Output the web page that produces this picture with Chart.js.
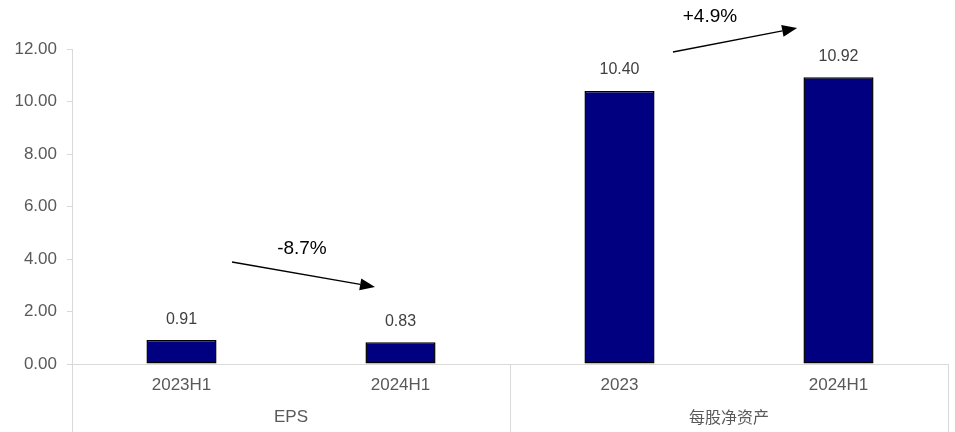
<!DOCTYPE html>
<html>
<head>
<meta charset="utf-8">
<script src="https://cdn.jsdelivr.net/npm/chart.js@4"></script>
<style>
html,body{margin:0;padding:0;background:#fff;}
#wrap{width:955px;height:432px;}
</style>
</head>
<body>
<div id="wrap"><canvas id="c" width="955" height="432"></canvas></div>
<script>
// ---- data ----
const categories = ['2023H1', '2024H1', '2023', '2024H1'];
const groupNames = ['EPS', '每股净资产'];
const groupSpans = [[0, 1], [2, 3]];
const values = [0.91, 0.83, 10.40, 10.92];
const yTicks = [0, 2, 4, 6, 8, 10, 12];
const changeLabels = ['-8.7%', '+4.9%'];

const FONT = '"Liberation Sans", Arial, sans-serif';

// annotation placement in data space (category index, value)
const arrowSpecs = [
  { from: [0.2306, 3.886], to: [0.8836, 2.933], text: [0.550, 4.381] },
  { from: [2.244, 11.886], to: [2.811, 12.80], text: [2.413, 13.22] }
];

const extrasPlugin = {
  id: 'extras',
  afterDatasetsDraw(chart) {
    const ctx = chart.ctx;
    const xs = chart.scales.x, ys = chart.scales.y;
    const ca = chart.chartArea;
    ctx.save();
    // value labels
    const meta = chart.getDatasetMeta(0);
    ctx.font = '16px ' + FONT;
    ctx.fillStyle = '#404040';
    ctx.textAlign = 'center';
    ctx.textBaseline = 'middle';
    meta.data.forEach((bar, i) => {
      ctx.fillText(values[i].toFixed(2), bar.x, bar.y - 21);
    });
    // group separators
    ctx.strokeStyle = '#d9d9d9';
    ctx.lineWidth = 1;
    const seps = [ca.left, (xs.getPixelForTick(1) + xs.getPixelForTick(2)) / 2, ca.right];
    seps.forEach(x => {
      const px = Math.round(x) + 0.5;
      ctx.beginPath();
      ctx.moveTo(px, ca.bottom);
      ctx.lineTo(px, chart.height);
      ctx.stroke();
    });
    // group labels
    ctx.fillStyle = '#595959';
    groupNames.forEach((g, i) => {
      const cx = (xs.getPixelForTick(groupSpans[i][0]) + xs.getPixelForTick(groupSpans[i][1])) / 2;
      ctx.font = (i === 1 ? '16px "Noto Sans CJK SC", ' : '17px ') + FONT;
      ctx.fillText(g, cx, 417);
    });
    // arrows
    arrowSpecs.forEach((a, i) => {
      const x1 = xs.getPixelForValue(a.from[0]), y1 = ys.getPixelForValue(a.from[1]);
      const x2 = xs.getPixelForValue(a.to[0]), y2 = ys.getPixelForValue(a.to[1]);
      const ang = Math.atan2(y2 - y1, x2 - x1);
      const hl = 15, hw = 6;
      const bx = x2 - hl * Math.cos(ang), by = y2 - hl * Math.sin(ang);
      ctx.strokeStyle = '#000';
      ctx.fillStyle = '#000';
      ctx.lineWidth = 1.3;
      ctx.beginPath();
      ctx.moveTo(x1, y1);
      ctx.lineTo(bx, by);
      ctx.stroke();
      ctx.beginPath();
      ctx.moveTo(x2, y2);
      ctx.lineTo(bx + hw * Math.sin(ang), by - hw * Math.cos(ang));
      ctx.lineTo(bx - hw * Math.sin(ang), by + hw * Math.cos(ang));
      ctx.closePath();
      ctx.fill();
      ctx.font = '19px ' + FONT;
      ctx.textAlign = 'center';
      ctx.textBaseline = 'middle';
      ctx.fillText(changeLabels[i], xs.getPixelForValue(a.text[0]), ys.getPixelForValue(a.text[1]));
    });
    ctx.restore();
  }
};

new Chart(document.getElementById('c'), {
  type: 'bar',
  data: {
    labels: categories,
    datasets: [{
      data: values,
      backgroundColor: '#000080',
      borderColor: '#000000',
      borderWidth: 1.5,
      borderSkipped: false,
      categoryPercentage: 1,
      barPercentage: 0.32
    }]
  },
  options: {
    responsive: false,
    animation: false,
    devicePixelRatio: 1,
    layout: { padding: { top: 49, right: 7, left: 0, bottom: 0 } },
    plugins: { legend: { display: false }, tooltip: { enabled: false } },
    scales: {
      x: {
        grid: { display: false, drawTicks: false },
        border: { display: true, color: '#d9d9d9', width: 1 },
        ticks: { color: '#595959', font: { size: 17, family: FONT }, padding: 11, maxRotation: 0 },
        afterFit(s) { s.height = 68; }
      },
      y: {
        min: 0, max: 12,
        afterBuildTicks(s) { s.ticks = yTicks.map(v => ({ value: v })); },
        grid: { drawOnChartArea: false, tickLength: 5, color: '#d9d9d9' },
        border: { display: true, color: '#d9d9d9', width: 1 },
        ticks: {
          color: '#595959', font: { size: 17, family: FONT }, padding: 10,
          callback: v => Number(v).toFixed(2)
        },
        afterFit(s) { s.width = 72; }
      }
    }
  },
  plugins: [extrasPlugin]
});
</script>
</body>
</html>
